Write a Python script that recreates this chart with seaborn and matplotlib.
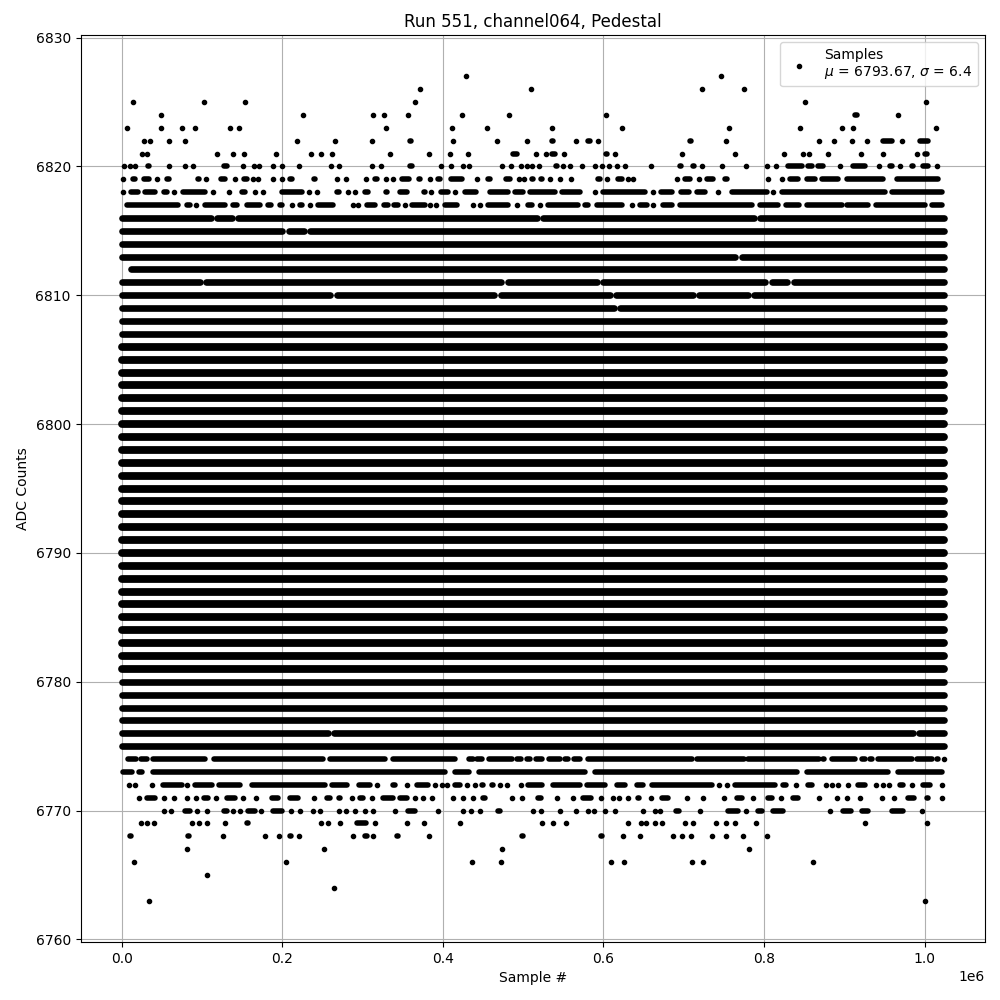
import pandas as pd
import seaborn as sns
import matplotlib.pyplot as plt

# values, x in thousands of samples
# a plain number is one dot, a (start, end) pair is a run of dots that merge together
row_6827 = [429.4, 747]
row_6826 = [372.1, 510.3, 723.3, 775.6]
row_6825 = [14.7, 103, 154.1, 365.9, 851.5, 1002.2]
row_6824 = [49.6, 226.4, 313.5, 327.2, 357.2, 424.4, 482.9, 603.7, (911.3, 917.5), 967.3]
row_6823 = [7.2, 49.6, 75.7, 91.9, 135.5, 146.7, 329.7, 412, 455.5, 536.5, 623.6, 756.9, 845.3, 897.6, 911.3, 1014.6]
row_6822 = [28.4, 35.5, 59.5, 79.4, 218.9, 266.2, 312.3, (357, 362.6), 413.2, 468, 505.3, (534.4, 539.8), 565.5,
            (579, 585.4), (591.6, 595.8), (705.8, 711.3), 753.2, (865.7, 870.6), 887.6, 910, 927.9, (946.6, 961),
            972.3, (992.2, 1006.8)]
row_6821 = [25, 32.1, 119.3, 139.2, 152.9, 192.7, 236.3, 248.8, (261.2, 263.7), (332.2, 336.3), 383.3, 409.5,
            (416.5, 421.5), 431.9, (485.8, 494), 516.5, 528.6, (534.4, 541.9), 551.4, (600.8, 606.2), 614.9, 698.4,
            764, 825, 849, 856.5, 880, 921.3, 948.7, 991, (998.5, 1004.7)]
row_6820 = [3, 10.6, 16.8, (31.3, 36.3), 59.5, 79.4, 89.4, (125.9, 133), 151.7, 165.3, 171.6, 189, 200.2, 221, 261.2,
            (268.7, 272.8), 312.3, 323.5, (357.2, 363.4), 397.4, 410.7, 425.7, 432.7, 474.2, (483, 485.8), 497.9,
            504.5, 511.6, 520.3, (538.5, 544), 550, 558.5, 573.8, (587.5, 591.6), 598.7, (605.3, 609), 617.4, 627.3,
            658.9, (693.3, 698.7), (710, 715.4), (721.2, 725.4), 747.4, 777.3, (802.6, 805.5), 814.6, (828.3, 849),
            (853, 861.5), (865.7, 876), 894.7, (909.2, 928), 943.7, (954.9, 961), 969.4, (981.9, 988),
            (996.4, 1006.8), 1015.1]
row_6819 = [2.3, (12.6, 18.9), (26.3, 36.3), 44.6, (55, 61.2), (92.7, 98.5), 105.2, (121.8, 130.9), 141.3,
            (150.8, 157.9), 163.3, 170.3, 189, 199.4, (207.7, 214.7), (238, 243), 268.7, 279.9, 304.8, (313.5, 319.7),
            329.7, 338.4, (346.8, 359.3), (368.4, 373.8), (382, 386), (391.6, 398.7), (408, 425.7), 443, (454.7, 461),
            (476.3, 485.8), 495.4, 501.6, (508.7, 514.9), (520.3, 525.3), (531.5, 535.6), 546.4, 560.1,
            (591.6, 597.9), 604, (616.5, 624.9), 631, 637.3, (653, 658), 692, (699.5, 710), (718.3, 720), (726.6, 739),
            (749.5, 755.7), 805.5, 822, (830.4, 844.9), (851, 865.7), (869.8, 894.7), (901, 950.7), (963, 1019.2)]
row_6818 = [1.4, (9.7, 22.2), (27.2, 43.8), (51.2, 58.3), 65.7, (74.9, 106), (112.2, 115), 134.2, (147.5, 155.8),
            166.2, 176.6, (197.3, 226.4), 233.8, 243.8, (265.8, 272.8), 282.4, (288.6, 292.8), (301, 309.4),
            (326.8, 332.6), (344.6, 357), (375, 380), 385, (395.8, 408.2), 414.9, (425.7, 443), (456.8, 483.8),
            (487.9, 502.4), (506.6, 541.9), (546, 573), 590, (597.9, 654), 662.2, (669.7, 687), (694.6, 708),
            (714.2, 728.7), (741, 745.3), (757.8, 805.5), 811.7, (820, 952.8), (957, 1024)]
row_6817 = [(4.3, 72.8), (79, 87.3), 92.7, (101.9, 130.9), (137, 145.4), (153.7, 174.5), (180.7, 188.2),
            (195.2, 201.5), 212.7, (220, 226.4), (232.6, 236.7), (243, 265.8), 288.6, 294.8, (304, 317.6),
            (325, 333.4), (337.6, 346.8), 353, (359.3, 380), 384, 391.2, (400.8, 419.4), (436, 439), 446.4,
            (454.7, 483.8), 492, (503.7, 512.8), 521.1, (529.4, 570.9), (575, 583.4), (589.6, 624.9), (633.2, 637.3),
            (643.5, 656), 662.2, (672.6, 687), (693.3, 786.8), (793, 820), (826, 845), (851, 899), (901, 932),
            (937, 1002.6), (1006.8, 1024)]
row_6816 = [(0, 111), (119, 137), (145, 517), (525, 787), (795, 1024)]
row_6815 = [(0, 200), (208, 227), (235, 1024)]
row_6813 = [(0, 764), (772, 1024)]
row_6812 = [(12, 1024)]
row_6811 = [(0, 97), (105, 473), (481, 592), (600, 801), (810, 829), (837, 1024)]
row_6810 = [(0, 260), (268, 464), (472, 608), (616, 711), (719, 780), (788, 1024)]
row_6809 = [(0, 613), (621, 1024)]
row_6776 = [(0, 257), (265, 985), (993, 1024)]
row_6774 = [(5.6, 19.7), (22, 33), (37.5, 106), (113.5, 253), (257, 330), (336, 417), (430, 439), (441, 450.5),
            (455, 488), (490, 499.5), (502.5, 510.7), (513.6, 525), (530.6, 548), (550, 558), (561, 573), (579, 712),
            (714, 776.5), (778.5, 870), (872, 877), (883, 915.5), (919.6, 928), (930, 937), (940, 986), (989, 1011),
            (1013, 1018.4), 1024]
row_6773 = [(0, 14.7), (20, 28), (37.5, 405), (413, 435), (443, 579), (587, 843), (851, 957), (965, 1024)]
row_6772 = [9.7, 16.4, 37.5, (50, 77), 82, (89.4, 114), (119, 149.6), (160.8, 255.4), (260.4, 282.4), (293.6, 311.4),
            318.5, (336.3, 342.5), 355.9, (365.5, 383.3), 390.4, 398.7, 405.7, (413.2, 423.6), 429.8, 440.2,
            (446.4, 452.6), (458.9, 465), 471.3, 479.6, 497, (504.5, 525.3), (535.6, 573), (577, 604), (614.5, 629),
            (639.4, 651.8), (658, 737), 744.5, 754.4, (762, 815.8), (822, 830), 839.5, (852.4, 861.5), 876.9, 884.3,
            892.6, 904.2, (915.5, 928), 939, 948.7, 956, (967.3, 975.6), 984.8, (996.4, 1008.8), 1021.3]
row_6771 = [22.2, (29.2, 43.8), 53.3, (63.7, 67.8), 81.9, 92.3, (101, 110), 117.2, (128.8, 143.4), 150.8, 167.4,
            (184.9, 197.3), (207.7, 222.2), 240, (253.3, 261.6), (268.7, 274), 286.5, (294.8, 303.1), 311.4,
            (323.9, 340.5), (344.6, 357), 365.5, 375, (384, 388), (411, 415), (423.6, 427.7), (436, 440), (448.5, 454),
            (483.8, 488), 498.3, (516, 524.4), 541.9, 562.6, (573, 586.7), 597.5, 612.4, 619.9, 631, (640.6, 646.4),
            658.9, (670.5, 683), (701.6, 705.8), 724.6, 750.3, (764, 774.4), 786.8, (803.4, 811.7), 820.8,
            (834.5, 844.9), 869, 891.4, 903, 919.6, 947.4, 962.3, (977.7, 989.3), (1000.5, 1006.8), 1022]
row_6770 = [53.3, 61.6, (77, 87.3), 94.4, 106.8, (125.9, 133), 139.2, 147.5, (155.8, 168.3), 174, (187, 201.5), 211.4,
            222.2, 238.8, 247, 271.2, 279, 290.3, 303.1, 313.5, 340.5, (355, 367.5), 394.5, 425.6, 435.2, 446.4,
            (467, 473.4), 512.8, 522.8, 546, 565.5, 581.3, 588.7, 602.4, 614.9, 649.8, 663.9, 670.9, (689, 696.2),
            720.4, (753.6, 769.4), 777.7, (791, 800), (809.6, 826.2), 882.7, (896.8, 910.5), (919.6, 932),
            (957, 975.6), 997.2]
row_6769 = [23.8, 32.1, (38.3, 42), 87.3, 96, 106.8, 129.2, (153.7, 160), 248.8, 257.5, 272.4, (290.7, 306), 316, 356,
            377, 422, 524, 537.7, 554, 631, 646.4, 653.5, 663.9, 672.6, 701.7, 712, 740, 752.4, 764, 790.5, 925.8,
            1003.4]
row_6768 = [(8.5, 13.5), (81, 86), 126.8, 179, 196.5, (207.7, 213), 221.4, 288.6, (301, 307.3), 313.5, (340.5, 346.8),
            383.3, (497, 502), (595, 600), 624.9, (643.5, 647.7), 687, 698.4, 708.8, 735.8, 753.2, 774.4, 803.4]
row_6767 = [81, 251.7, 474.2, 781.8]
row_6766 = [16, 205, 436.9, 472.1, 609.9, 626.1, 710, 724.5, 861.5]
row_6765 = [106.8]
row_6764 = [265]
row_6763 = [34.6, 1001]

# rows that are unbroken from first to last sample
solid_levels = [6814, 6808, 6807, 6806, 6805, 6804, 6803, 6802, 6801, 6800, 6799, 6798, 6797, 6796, 6795, 6794, 6793,
                6792, 6791, 6790, 6789, 6788, 6787, 6786, 6785, 6784, 6783, 6782, 6781, 6780, 6779, 6778, 6777, 6775]
solid_run = (0, 1024)

rows = {
    6827: row_6827, 6826: row_6826, 6825: row_6825, 6824: row_6824, 6823: row_6823, 6822: row_6822,
    6821: row_6821, 6820: row_6820, 6819: row_6819, 6818: row_6818, 6817: row_6817, 6816: row_6816,
    6815: row_6815, 6813: row_6813, 6812: row_6812, 6811: row_6811, 6810: row_6810, 6809: row_6809,
    6776: row_6776, 6774: row_6774, 6773: row_6773, 6772: row_6772, 6771: row_6771, 6770: row_6770,
    6769: row_6769, 6768: row_6768, 6767: row_6767, 6766: row_6766, 6765: row_6765, 6764: row_6764,
    6763: row_6763,
}
for level in solid_levels:
    rows[level] = [solid_run]


def row_width(level):
    # thousands of overlapping dots darken their soft edges, so busy rows print fatter
    if 6781 <= level <= 6806:
        return 5.6
    if 6775 <= level <= 6816:
        return 4.8
    return 4


def cap_trim(level):
    # run ends were read at the dot edge, the round cap adds that radius back on
    return 2 if level >= 6817 or level <= 6774 else 0


dots = []
runs = []
for level, row in rows.items():
    trim = cap_trim(level)
    for item in row:
        if isinstance(item, tuple):
            start, end = item[0] + trim, item[1] - trim
            if end - start < 1:
                # too short for a line, a zero length one is not drawn at all
                dots.append((level, (item[0] + item[1]) / 2 * 1000))
            else:
                runs.append((level, start * 1000, end * 1000, row_width(level)))
        else:
            dots.append((level, item * 1000))
dots = pd.DataFrame(dots, columns=['adc', 'sample'])
runs = pd.DataFrame(runs, columns=['adc', 'start', 'end', 'width'])

fig, ax = plt.subplots(figsize=(10, 10), dpi=100)

sns.scatterplot(data=dots, x='sample', y='adc', color='k', marker='o', s=9, edgecolor='k', linewidth=1, zorder=2,
                label='Samples\n$\\mu$ = 6793.67, $\\sigma$ = 6.4', ax=ax)
ax.hlines(runs['adc'], runs['start'], runs['end'], color='k', linewidth=runs['width'].tolist(), capstyle='round',
          zorder=2)

ax.set_title('Run 551, channel064, Pedestal')
ax.set_xlabel('Sample #')
ax.set_ylabel('ADC Counts')
ax.grid(True)
ax.legend(loc='upper right')

fig.subplots_adjust(left=0.0805, right=0.985, top=0.965, bottom=0.058)
plt.savefig('out.png')
